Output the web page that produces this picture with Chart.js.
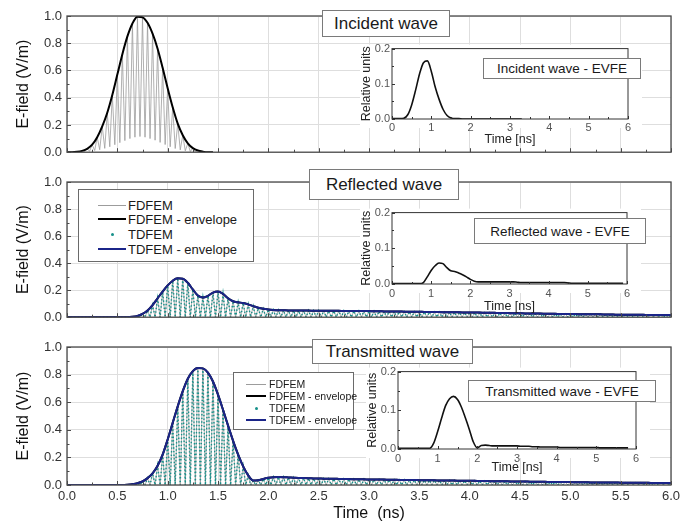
<!DOCTYPE html>
<html>
<head>
<meta charset="utf-8">
<script src="https://cdn.jsdelivr.net/npm/chart.js@4.4.1/dist/chart.umd.min.js"></script>
<style>
  body { margin: 0; background: #fff; }
  #fig { position: relative; width: 693px; height: 523px; overflow: hidden;
         font-family: "Liberation Sans", Arial, sans-serif; color: #1a1a1a; }
  #fig canvas { position: absolute; }
  .box { position: absolute; background: #fff; border: 1px solid #7a7a7a; box-sizing: border-box;
         display: flex; align-items: center; justify-content: center; white-space: nowrap; }
  .legend { position: absolute; background: #fff; border: 1px solid #6a6a6a; box-sizing: border-box; }
  .legend .row { position: absolute; left: 0; height: 0; white-space: nowrap; }
  .legend .sample { position: absolute; top: 0; }
  .legend .label { position: absolute; top: 0; transform: translateY(-50%); line-height: 1; }
</style>
</head>
<body>
<div id="fig"></div>
<script>
// ---------------------------------------------------------------
// Data
// ---------------------------------------------------------------
const SAMPLE_STEP_NS = 0.05;   // main panels
const EVFE_STEP_NS = 0.1;      // insets

// Incident wave, envelope (0 .. 1.45 ns, zero afterwards)
const incidentEnvelope = [
  0, 0, 0.003, 0.01, 0.025, 0.055, 0.11, 0.19, 0.29, 0.42,
  0.57, 0.72, 0.85, 0.945, 0.995, 0.99, 0.95, 0.87, 0.76, 0.62,
  0.47, 0.33, 0.21, 0.125, 0.065, 0.03, 0.012, 0.004, 0, 0
];
// lower ends of the FDFEM carrier swings between envelope samples
const incidentTroughs = [
  0, 0, 0.002, 0.005, 0.008, 0.012, 0.018, 0.028, 0.04, 0.055,
  0.07, 0.085, 0.1, 0.11, 0.115, 0.11, 0.1, 0.088, 0.072, 0.056,
  0.04, 0.027, 0.017, 0.01, 0.005, 0.002, 0.001, 0, 0
];

// Reflected wave, envelope (0 .. 6 ns)
const reflectedEnvelope = [
  0, 0, 0, 0, 0, 0, 0, 0, 0, 0, 0, 0, 0,
  0.003, 0.01, 0.025, 0.05, 0.09, 0.14, 0.19, 0.235,
  0.27, 0.288, 0.285, 0.255, 0.205, 0.16, 0.145, 0.158, 0.182, 0.19,
  0.172, 0.14, 0.118, 0.11, 0.105, 0.095, 0.082, 0.07, 0.062, 0.057,
  0.054, 0.052, 0.051, 0.05, 0.05, 0.049, 0.049, 0.049, 0.048, 0.048,
  0.048, 0.047, 0.047, 0.047, 0.046, 0.046, 0.046, 0.045, 0.045, 0.045,
  0.044, 0.044, 0.043, 0.043, 0.042, 0.042, 0.041, 0.041, 0.04, 0.04,
  0.039, 0.039, 0.038, 0.038, 0.037, 0.037, 0.036, 0.036, 0.035, 0.035,
  0.034, 0.034, 0.033, 0.033, 0.032, 0.031, 0.031, 0.03, 0.03, 0.029,
  0.028, 0.028, 0.027, 0.027, 0.026, 0.025, 0.025, 0.024, 0.024, 0.023,
  0.023, 0.022, 0.022, 0.021, 0.021, 0.021, 0.02, 0.02, 0.019, 0.019,
  0.019, 0.018, 0.018, 0.018, 0.017, 0.017, 0.017, 0.016, 0.016, 0.016
];
const reflectedTrough = 0;   // carrier swings reach the baseline

// Transmitted wave, envelope (0 .. 6 ns)
const transmittedEnvelope = [
  0, 0, 0, 0, 0, 0, 0, 0, 0, 0, 0, 0,
  0.002, 0.006, 0.013, 0.026, 0.05, 0.085, 0.14, 0.22, 0.33,
  0.45, 0.57, 0.68, 0.77, 0.825, 0.848, 0.845, 0.815, 0.75, 0.655,
  0.545, 0.43, 0.32, 0.22, 0.135, 0.07, 0.032, 0.035, 0.044, 0.052,
  0.057, 0.058, 0.057, 0.055, 0.053, 0.051, 0.05, 0.049, 0.048, 0.047,
  0.046, 0.045, 0.045, 0.044, 0.043, 0.043, 0.042, 0.041, 0.041, 0.04,
  0.04, 0.039, 0.039, 0.038, 0.038, 0.037, 0.037, 0.036, 0.036, 0.035,
  0.035, 0.034, 0.034, 0.033, 0.033, 0.032, 0.032, 0.031, 0.031, 0.03,
  0.03, 0.029, 0.029, 0.028, 0.028, 0.027, 0.027, 0.026, 0.026, 0.025,
  0.025, 0.024, 0.024, 0.023, 0.023, 0.022, 0.022, 0.021, 0.021, 0.021,
  0.02, 0.02, 0.02, 0.019, 0.019, 0.019, 0.018, 0.018, 0.018, 0.017,
  0.017, 0.017, 0.016, 0.016, 0.016, 0.015, 0.015, 0.015, 0.015, 0.015
];
const transmittedTrough = 0;

// EVFE insets (relative units, 0.1 ns step)
const incidentEvfe = [
  0.001, 0.001, 0.001, 0.002, 0.012, 0.04, 0.082, 0.128, 0.16, 0.165,
  0.135, 0.09, 0.055, 0.027, 0.01, 0.003, 0.001, 0.001, 0, 0,
  0, 0, 0, 0, 0, 0, 0, 0, 0, 0,
  0, 0, 0, 0
];
const reflectedEvfe = [
  0.001, 0.001, 0.001, 0.001, 0.001, 0.001, 0.001, 0.001,
  0.004, 0.02, 0.038, 0.051, 0.059, 0.057, 0.046, 0.037, 0.035, 0.031,
  0.026, 0.02, 0.013, 0.008, 0.006,
  0.006, 0.006, 0.006, 0.006, 0.006, 0.006, 0.006, 0.006, 0.006,
  0.005,
  0.004, 0.004, 0.004, 0.004, 0.004, 0.004, 0.004, 0.004, 0.004, 0.004, 0.004, 0.004,
  0.003,
  0.002, 0.002, 0.002, 0.002, 0.002, 0.002, 0.002, 0.002, 0.002, 0.002, 0.002, 0.002, 0.002, 0.002
];
const transmittedEvfe = [
  0.002, 0.002, 0.002, 0.002, 0.002, 0.002, 0.002, 0.002, 0.002,
  0.015, 0.045, 0.08, 0.112, 0.13, 0.136, 0.128, 0.108, 0.08, 0.05, 0.018, 0.003,
  0.009, 0.01, 0.009,
  0.008, 0.008, 0.008, 0.008, 0.008, 0.008, 0.008,
  0.007, 0.007, 0.007, 0.006, 0.006,
  0.005, 0.005, 0.005, 0.005, 0.005,
  0.004, 0.004, 0.004, 0.004, 0.004, 0.004, 0.004, 0.004, 0.004, 0.004,
  0.003, 0.003, 0.003, 0.003, 0.003, 0.003, 0.003, 0.003
];

const mainYTicks = [0, 0.2, 0.4, 0.6, 0.8, 1.0];
const mainXTicks = [0, 0.5, 1, 1.5, 2, 2.5, 3, 3.5, 4, 4.5, 5, 5.5, 6];
const insetXTicks = [0, 1, 2, 3, 4, 5, 6];
const insetYTicks = [0, 0.1, 0.2];

const legendLabels = ['FDFEM', 'FDFEM - envelope', 'TDFEM', 'TDFEM - envelope'];

// ---------------------------------------------------------------
// Style
// ---------------------------------------------------------------
const FONT = '"Liberation Sans", Arial, sans-serif';
const GRID = '#dedede';
const FRAME = '#4a4a4a';
const GRAY = '#9c9c9c';
const TEAL = '#17918a';
const NAVY = '#1b2589';

Chart.defaults.font.family = FONT;
Chart.defaults.color = '#333';
Chart.defaults.animation = false;

const fig = document.getElementById('fig');

function series(values, step) {
  return values.map((v, i) => ({ x: +(i * step).toFixed(3), y: v }));
}

// carrier swings: envelope sample -> trough -> next envelope sample
function carrier(env, troughs) {
  const pts = [];
  env.forEach((v, i) => {
    const t = i * SAMPLE_STEP_NS;
    pts.push({ x: t, y: v });
    if (i < env.length - 1) {
      const low = Array.isArray(troughs) ? troughs[i] : troughs;
      pts.push({ x: t + SAMPLE_STEP_NS / 2, y: low });
    }
  });
  return pts;
}

function fixedTicks(list) {
  return (scale) => { scale.ticks = list.map(v => ({ value: v })); };
}

// frame + inward tick marks
const frameTicks = {
  id: 'frameTicks',
  afterDatasetsDraw(chart, args, o) {
    const { ctx, chartArea: a, scales: { x, y } } = chart;
    ctx.save();
    ctx.strokeStyle = o.color;
    ctx.lineWidth = 1;
    ctx.beginPath();
    let k = 0;
    for (let v = x.min; v <= x.max + 1e-9; v += o.xStep, k++) {
      const px = Math.round(x.getPixelForValue(v)) + 0.5;
      ctx.moveTo(px, a.bottom);
      ctx.lineTo(px, a.bottom - (k % 2 === 0 ? o.major : o.minor));
    }
    k = 0;
    for (let v = y.min; v <= y.max + 1e-9; v += o.yStep, k++) {
      const py = Math.round(y.getPixelForValue(v)) + 0.5;
      ctx.moveTo(a.left, py);
      ctx.lineTo(a.left + (k % 2 === 0 ? o.major : o.minor), py);
    }
    ctx.stroke();
    ctx.lineWidth = o.frameWidth;
    ctx.strokeRect(a.left, a.top, a.right - a.left, a.bottom - a.top);
    ctx.restore();
  }
};

// white patch under an inset
const insetPaper = {
  id: 'insetPaper',
  beforeDraw(chart) {
    const { ctx, chartArea: a } = chart;
    ctx.save();
    ctx.fillStyle = '#fff';
    ctx.fillRect(a.left - 32, a.top - 4, a.right - a.left + 46, a.bottom - a.top + 13);
    ctx.restore();
  }
};

function makeCanvas(left, top, width, height) {
  const c = document.createElement('canvas');
  c.width = width; c.height = height;
  c.style.left = left + 'px'; c.style.top = top + 'px';
  c.style.width = width + 'px'; c.style.height = height + 'px';
  fig.appendChild(c);
  return c;
}

// ---------------------------------------------------------------
// Main panels
// ---------------------------------------------------------------
function mainPanel(top, height, padTop, xHeight, datasets, showTime) {
  const canvas = makeCanvas(0, top, 693, height);
  return new Chart(canvas, {
    type: 'line',
    data: { datasets },
    options: {
      responsive: false,
      animation: false,
      layout: { padding: { left: 0, right: 22, top: padTop, bottom: 0 } },
      elements: { point: { radius: 0 } },
      plugins: {
        legend: { display: false },
        tooltip: { enabled: false },
        frameTicks: { xStep: 0.25, yStep: 0.1, major: 4, minor: 2.5, color: FRAME, frameWidth: 1.3 },
      },
      scales: {
        x: {
          type: 'linear', min: 0, max: 6,
          afterBuildTicks: fixedTicks(mainXTicks),
          afterFit: s => { s.height = xHeight; },
          grid: { color: GRID, drawTicks: false },
          border: { display: false },
          ticks: {
            display: showTime, padding: 4, autoSkip: false, maxRotation: 0,
            font: { size: 13 }, color: '#333',
            callback: v => v.toFixed(1),
          },
          title: {
            display: showTime, text: 'Time  (ns)', color: '#111',
            font: { size: 16 }, padding: { top: 0, bottom: 0 },
          },
        },
        y: {
          min: 0, max: 1,
          afterBuildTicks: fixedTicks(mainYTicks),
          afterFit: s => { s.width = 67; },
          grid: { color: GRID, drawTicks: false },
          border: { display: false },
          ticks: { padding: 5, font: { size: 13 }, color: '#333', callback: v => v.toFixed(1) },
          title: {
            display: true, text: 'E-field (V/m)', color: '#111',
            font: { size: 16 }, padding: { top: 14, bottom: 0 },
          },
        },
      },
    },
    plugins: [frameTicks],
  });
}

function waveSets(env, troughs, withTdfem) {
  const sets = [
    { label: 'FDFEM', data: carrier(env, troughs), borderColor: GRAY, borderWidth: 0.8,
      tension: 0, order: 4 },
    { label: 'FDFEM - envelope', data: series(env, SAMPLE_STEP_NS), borderColor: '#000',
      borderWidth: 2, cubicInterpolationMode: 'monotone', order: 2 },
  ];
  if (withTdfem) {
    sets.push(
      { label: 'TDFEM', data: carrier(env, troughs), borderColor: TEAL, borderWidth: 1.4,
        borderDash: [1.4, 2.2], tension: 0, order: 3 },
      { label: 'TDFEM - envelope', data: series(env, SAMPLE_STEP_NS), borderColor: NAVY,
        borderWidth: 2, cubicInterpolationMode: 'monotone', order: 1 },
    );
  }
  return sets;
}

mainPanel(0, 165, 16, 10, waveSets(incidentEnvelope, incidentTroughs, false), false);
mainPanel(165, 165, 17, 10, waveSets(reflectedEnvelope, reflectedTrough, true), false);
mainPanel(330, 193, 17, 38, waveSets(transmittedEnvelope, transmittedTrough, true), true);

// ---------------------------------------------------------------
// Insets (EVFE)
// ---------------------------------------------------------------
function insetPanel(area, tickY, titleY, values) {
  const [L, R, T, B] = area;
  const left = L - 37, top = T - 8;
  const width = R - left + 22;
  const height = Math.round(titleY + 8 - top);
  const canvas = makeCanvas(left, top, width, height);
  return new Chart(canvas, {
    type: 'line',
    data: {
      datasets: [{ data: series(values, EVFE_STEP_NS), borderColor: '#111', borderWidth: 1.6,
        cubicInterpolationMode: 'monotone' }],
    },
    options: {
      responsive: false,
      animation: false,
      layout: { padding: { left: 0, right: 22, top: 8, bottom: 0 } },
      elements: { point: { radius: 0 } },
      plugins: {
        legend: { display: false },
        tooltip: { enabled: false },
        frameTicks: { xStep: 0.5, yStep: 0.05, major: 3, minor: 2, color: '#333', frameWidth: 1 },
      },
      scales: {
        x: {
          type: 'linear', min: 0, max: 6,
          afterBuildTicks: fixedTicks(insetXTicks),
          afterFit: s => { s.height = height - (B - top); },
          grid: { display: false, drawTicks: false },
          border: { display: false },
          ticks: { padding: tickY - B - 6.6, autoSkip: false, maxRotation: 0,
            font: { size: 11 }, color: '#555' },
          title: { display: true, text: 'Time [ns]', color: '#222', font: { size: 12.5 },
            padding: { top: 0, bottom: 0.5 } },
        },
        y: {
          min: 0, max: 0.2,
          afterBuildTicks: fixedTicks(insetYTicks),
          afterFit: s => { s.width = 37; },
          grid: { display: false, drawTicks: false },
          border: { display: false },
          ticks: { padding: 2, font: { size: 11 }, color: '#555', callback: v => v.toFixed(1) },
          title: { display: true, text: 'Relative units', color: '#222', font: { size: 12.5 },
            padding: { top: 4.5, bottom: 0 } },
        },
      },
    },
    plugins: [insetPaper, frameTicks],
  });
}

insetPanel([392, 628, 48, 119], 128, 140, incidentEvfe);
insetPanel([392, 627, 212, 284], 294, 307, reflectedEvfe);
insetPanel([398, 636, 371, 449], 459, 468, transmittedEvfe);

// ---------------------------------------------------------------
// Labels and legends
// ---------------------------------------------------------------
function box(text, left, top, width, height, size) {
  const d = document.createElement('div');
  d.className = 'box';
  d.textContent = text;
  Object.assign(d.style, { left: left + 'px', top: top + 'px', width: width + 'px',
    height: height + 'px', fontSize: size + 'px' });
  fig.appendChild(d);
}

box('Incident wave', 322, 10, 128, 27, 17);
box('Reflected wave', 309, 169, 150, 31, 17);
box('Transmitted wave', 312, 339, 161, 25, 17);
box('Incident wave - EVFE', 483, 58, 158, 21, 13.5);
box('Reflected wave - EVFE', 474, 218, 172, 26, 13.5);
box('Transmitted wave - EVFE', 468, 380, 188, 22, 13.5);

const legendStyles = [
  { type: 'line', color: GRAY, width: 1 },
  { type: 'line', color: '#000', width: 2 },
  { type: 'dot', color: TEAL },
  { type: 'line', color: NAVY, width: 2 },
];

function legend(left, top, width, height, rows, sampleX0, sampleX1, textX, size) {
  const d = document.createElement('div');
  d.className = 'legend';
  Object.assign(d.style, { left: left + 'px', top: top + 'px', width: width + 'px',
    height: height + 'px', fontSize: size + 'px' });
  legendLabels.forEach((label, i) => {
    const row = document.createElement('div');
    row.className = 'row';
    row.style.top = rows[i] + 'px';
    const st = legendStyles[i];
    const s = document.createElement('div');
    s.className = 'sample';
    if (st.type === 'line') {
      Object.assign(s.style, { left: sampleX0 + 'px', width: (sampleX1 - sampleX0) + 'px',
        borderTop: st.width + 'px solid ' + st.color, marginTop: (-st.width / 2) + 'px' });
    } else {
      const c = (sampleX0 + sampleX1) / 2;
      Object.assign(s.style, { left: (c - 1.5) + 'px', width: '3px', height: '3px',
        borderRadius: '50%', background: st.color, marginTop: '-1.5px' });
    }
    const t = document.createElement('div');
    t.className = 'label';
    t.style.left = textX + 'px';
    t.textContent = label;
    row.appendChild(s);
    row.appendChild(t);
    d.appendChild(row);
  });
  fig.appendChild(d);
}

legend(78, 189, 176, 73, [15, 29, 44, 59], 19, 47, 49, 13);
legend(233, 372, 121, 58, [11, 23, 35, 47], 12, 32, 35, 10.5);
</script>
</body>
</html>
